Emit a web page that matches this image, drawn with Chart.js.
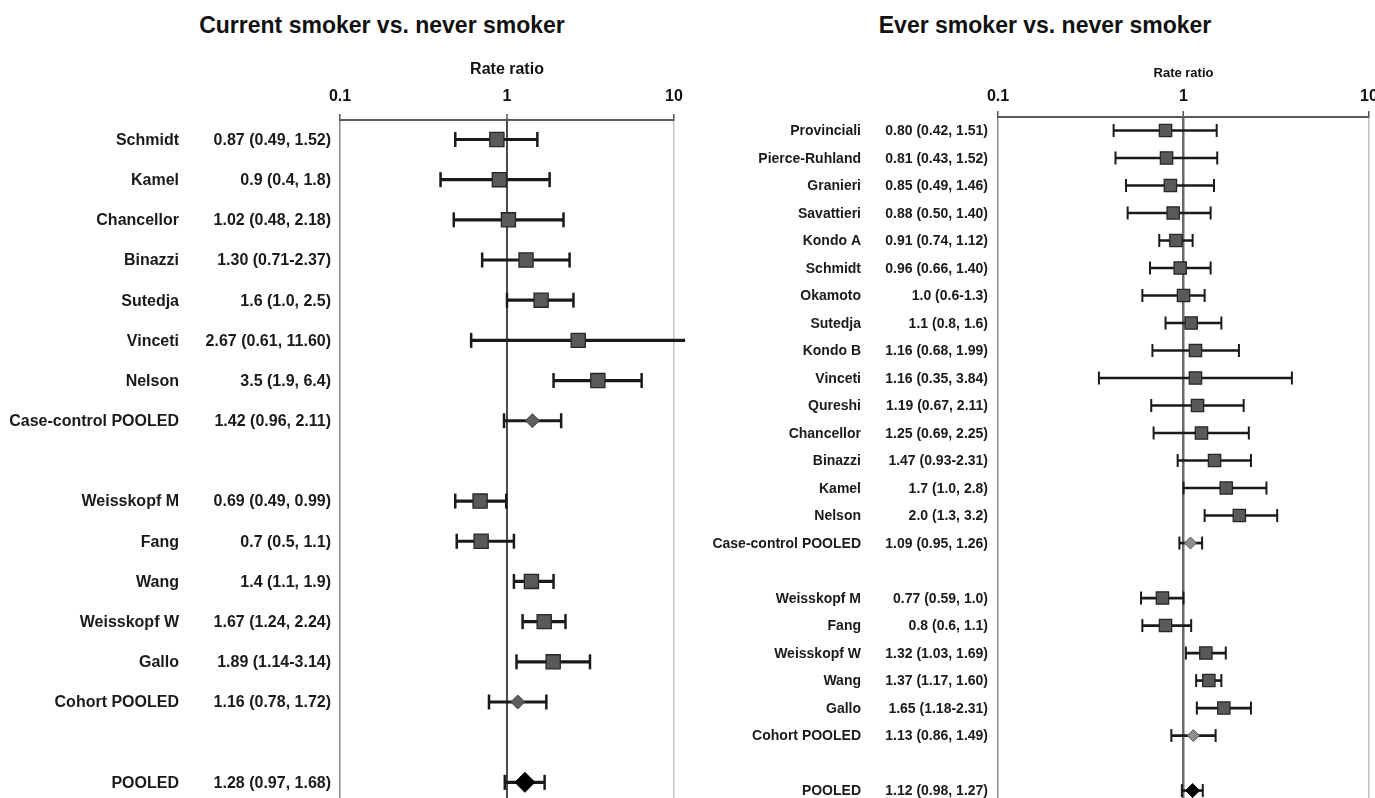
<!DOCTYPE html>
<html lang="en">
<head>
  <meta charset="UTF-8">
  <title>Smoking rate ratios - forest plots</title>
  <style>
    body {
      margin: 0;
      background: #fff;
      width: 1375px;
      height: 798px;
      overflow: hidden;
      position: relative;
      font-family: "Liberation Sans", Arial, sans-serif;
    }
    .panel-title {
      position: absolute;
      top: 11px;
      width: 420px;
      text-align: center;
      font-size: 23px;
      font-weight: bold;
      line-height: 28px;
      color: #111;
      white-space: nowrap;
    }
    canvas {
      position: absolute;
      top: 0;
    }
  </style>
</head>
<body>

<div class="panel-title" style="left:172px">Current smoker vs. never smoker</div>
<div class="panel-title" style="left:835px">Ever smoker vs. never smoker</div>
<canvas id="currentChart" width="700" height="798" style="left:0"></canvas>
<canvas id="everChart" width="700" height="798" style="left:700px"></canvas>

<script src="https://cdn.jsdelivr.net/npm/chart.js"></script>
<script>
  // x axis ticks (log scale)
  const tickVals = [0.1, 1, 10];
  const tickLabels = ['0.1', '1', '10'];

  // Current smoker vs. never smoker ('' rows are spacers)
  const currentStudies = ['Schmidt', 'Kamel', 'Chancellor', 'Binazzi', 'Sutedja', 'Vinceti', 'Nelson',
    'Case-control POOLED', '', 'Weisskopf M', 'Fang', 'Wang', 'Weisskopf W', 'Gallo', 'Cohort POOLED', '', 'POOLED'];
  const currentEst  = [0.87, 0.9, 1.02, 1.30, 1.6, 2.67, 3.5, 1.42, null, 0.69, 0.7, 1.4, 1.67, 1.89, 1.16, null, 1.28];
  const currentLow  = [0.49, 0.4, 0.48, 0.71, 1.0, 0.61, 1.9, 0.96, null, 0.49, 0.5, 1.1, 1.24, 1.14, 0.78, null, 0.97];
  const currentHigh = [1.52, 1.8, 2.18, 2.37, 2.5, 11.60, 6.4, 2.11, null, 0.99, 1.1, 1.9, 2.24, 3.14, 1.72, null, 1.68];
  const currentText = ['0.87 (0.49, 1.52)', '0.9 (0.4, 1.8)', '1.02 (0.48, 2.18)', '1.30 (0.71-2.37)', '1.6 (1.0, 2.5)',
    '2.67 (0.61, 11.60)', '3.5 (1.9, 6.4)', '1.42 (0.96, 2.11)', '', '0.69 (0.49, 0.99)', '0.7 (0.5, 1.1)',
    '1.4 (1.1, 1.9)', '1.67 (1.24, 2.24)', '1.89 (1.14-3.14)', '1.16 (0.78, 1.72)', '', '1.28 (0.97, 1.68)'];
  const currentKind = ['study', 'study', 'study', 'study', 'study', 'study', 'study', 'sub', '',
    'study', 'study', 'study', 'study', 'study', 'sub', '', 'all'];

  // Ever smoker vs. never smoker
  const everStudies = ['Provinciali', 'Pierce-Ruhland', 'Granieri', 'Savattieri', 'Kondo A', 'Schmidt', 'Okamoto',
    'Sutedja', 'Kondo B', 'Vinceti', 'Qureshi', 'Chancellor', 'Binazzi', 'Kamel', 'Nelson', 'Case-control POOLED', '',
    'Weisskopf M', 'Fang', 'Weisskopf W', 'Wang', 'Gallo', 'Cohort POOLED', '', 'POOLED'];
  const everEst  = [0.80, 0.81, 0.85, 0.88, 0.91, 0.96, 1.0, 1.1, 1.16, 1.16, 1.19, 1.25, 1.47, 1.7, 2.0, 1.09, null,
    0.77, 0.8, 1.32, 1.37, 1.65, 1.13, null, 1.12];
  const everLow  = [0.42, 0.43, 0.49, 0.50, 0.74, 0.66, 0.6, 0.8, 0.68, 0.35, 0.67, 0.69, 0.93, 1.0, 1.3, 0.95, null,
    0.59, 0.6, 1.03, 1.17, 1.18, 0.86, null, 0.98];
  const everHigh = [1.51, 1.52, 1.46, 1.40, 1.12, 1.40, 1.3, 1.6, 1.99, 3.84, 2.11, 2.25, 2.31, 2.8, 3.2, 1.26, null,
    1.0, 1.1, 1.69, 1.60, 2.31, 1.49, null, 1.27];
  const everText = ['0.80 (0.42, 1.51)', '0.81 (0.43, 1.52)', '0.85 (0.49, 1.46)', '0.88 (0.50, 1.40)', '0.91 (0.74, 1.12)',
    '0.96 (0.66, 1.40)', '1.0 (0.6-1.3)', '1.1 (0.8, 1.6)', '1.16 (0.68, 1.99)', '1.16 (0.35, 3.84)', '1.19 (0.67, 2.11)',
    '1.25 (0.69, 2.25)', '1.47 (0.93-2.31)', '1.7 (1.0, 2.8)', '2.0 (1.3, 3.2)', '1.09 (0.95, 1.26)', '',
    '0.77 (0.59, 1.0)', '0.8 (0.6, 1.1)', '1.32 (1.03, 1.69)', '1.37 (1.17, 1.60)', '1.65 (1.18-2.31)', '1.13 (0.86, 1.49)',
    '', '1.12 (0.98, 1.27)'];
  const everKind = ['study', 'study', 'study', 'study', 'study', 'study', 'study', 'study', 'study', 'study', 'study',
    'study', 'study', 'study', 'study', 'sub', '', 'study', 'study', 'study', 'study', 'study', 'sub', '', 'all'];

  // draws the study name and estimate columns left of the plot
  const rowLabels = {
    id: 'rowLabels',
    afterDraw(chart, args, opts) {
      const ctx = chart.ctx;
      const yScale = chart.scales.y;
      ctx.save();
      ctx.font = opts.font;
      ctx.fillStyle = '#1a1a1a';
      ctx.textAlign = 'right';
      ctx.textBaseline = 'middle';
      opts.names.forEach((name, i) => {
        if (!name) return;
        const py = yScale.getPixelForValue(i) + 1;
        ctx.fillText(name, opts.nameRight, py);
        ctx.fillText(opts.texts[i], opts.textRight, py);
      });
      ctx.restore();
    }
  };

  function points(vals, kind, want) {
    const out = [];
    vals.forEach((v, i) => {
      if (v != null && kind[i] === want) out.push({ x: v, y: i });
    });
    return out;
  }

  function makeForest(id, d, s) {
    const bars = [];
    const caps = [];
    d.est.forEach((v, i) => {
      if (v == null) return;
      bars.push({ x: [d.low[i], d.high[i]], y: i });
      [d.low[i], d.high[i]].forEach(c => {
        if (c >= 0.1 && c <= 10) caps.push({ x: c, y: i });
      });
    });

    return new Chart(document.getElementById(id), {
      type: 'scatter',
      data: {
        datasets: [
          {
            data: points(d.est, d.kind, 'all'),
            pointStyle: 'rectRot', pointRadius: s.allR,
            pointBackgroundColor: '#000', pointBorderColor: '#000', pointBorderWidth: 1
          },
          {
            data: points(d.est, d.kind, 'sub'),
            pointStyle: 'rectRot', pointRadius: s.subR,
            pointBackgroundColor: s.subFill, pointBorderColor: s.subBorder, pointBorderWidth: 1
          },
          {
            data: points(d.est, d.kind, 'study'),
            pointStyle: 'rect', pointRadius: s.boxR,
            pointBackgroundColor: '#595959', pointBorderColor: '#262626', pointBorderWidth: 1.3
          },
          {
            data: caps,
            pointStyle: 'line', pointRotation: 90, pointRadius: s.capR,
            pointBorderColor: '#1a1a1a', pointBorderWidth: s.lineW
          },
          {
            type: 'bar',
            indexAxis: 'y',
            data: bars,
            barThickness: s.lineW,
            backgroundColor: '#1a1a1a',
            borderWidth: 0,
            clip: 14
          }
        ]
      },
      options: {
        responsive: false,
        animation: false,
        events: [],
        layout: { autoPadding: false, padding: { left: s.left, right: s.right, top: 0, bottom: 0 } },
        scales: {
          x: {
            type: 'logarithmic',
            position: 'top',
            min: 0.1,
            max: 10,
            offset: false,
            afterBuildTicks: scale => { scale.ticks = tickVals.map(v => ({ value: v })); },
            afterFit: scale => { scale.height = s.top; },
            ticks: {
              autoSkip: false,
              maxRotation: 0,
              padding: s.tickPad,
              color: '#111',
              font: { family: 'Liberation Sans', size: 16, weight: 'bold' },
              callback: (v, i) => tickLabels[i]
            },
            title: {
              display: true,
              text: 'Rate ratio',
              color: '#111',
              padding: { top: s.titlePad, bottom: 0 },
              font: { family: 'Liberation Sans', size: s.axisTitleSize, weight: 'bold' }
            },
            grid: {
              offset: false,
              color: ctx => s.gridColors[ctx.index],
              lineWidth: ctx => s.gridWidths[ctx.index],
              tickLength: 6,
              tickColor: '#555',
              tickWidth: 1.5
            },
            border: { display: true, color: '#5a5a5a', width: 2 }
          },
          y: {
            type: 'linear',
            display: false,
            reverse: true,
            offset: false,
            min: s.yMin,
            max: s.yMax
          }
        },
        plugins: {
          legend: { display: false },
          tooltip: { enabled: false },
          rowLabels: {
            names: d.names,
            texts: d.texts,
            font: s.labelFont,
            nameRight: s.nameRight,
            textRight: s.textRight
          }
        }
      },
      plugins: [rowLabels]
    });
  }

  makeForest('currentChart',
    { names: currentStudies, est: currentEst, low: currentLow, high: currentHigh, texts: currentText, kind: currentKind },
    {
      left: 340, right: 26, top: 120, yMin: -0.485, yMax: 16.39,
      tickPad: 7.4, titlePad: 60.4, axisTitleSize: 16,
      gridColors: ['#8a8a8a', '#4a4a4a', '#c8c8c8'], gridWidths: [1.5, 2, 1.5],
      boxR: 10, subR: 7, allR: 10, capR: 7.5, lineW: 2.5,
      subFill: '#5e5e5e', subBorder: '#444',
      labelFont: 'bold 16px "Liberation Sans"', nameRight: 179, textRight: 331
    });

  makeForest('everChart',
    { names: everStudies, est: everEst, low: everLow, high: everHigh, texts: everText, kind: everKind },
    {
      left: 298, right: 31, top: 117, yMin: -0.49, yMax: 24.27,
      tickPad: 4.7, titlePad: 65.2, axisTitleSize: 13,
      gridColors: ['#8a8a8a', '#6a6a6a', '#c0c0c0'], gridWidths: [1.5, 2.5, 1.5],
      boxR: 8.7, subR: 6, allR: 7, capR: 6.5, lineW: 2,
      subFill: '#8c8c8c', subBorder: '#5a5a5a',
      labelFont: 'bold 14px "Liberation Sans"', nameRight: 161, textRight: 288
    });
</script>

</body>
</html>
